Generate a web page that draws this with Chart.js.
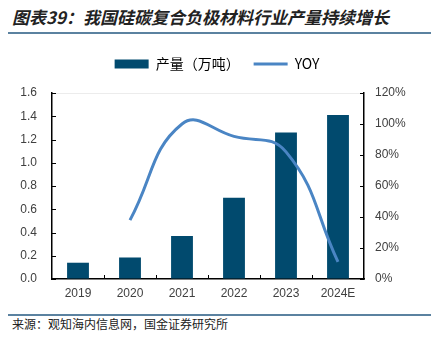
<!DOCTYPE html>
<html>
<head>
<meta charset="utf-8">
<script src="https://cdn.jsdelivr.net/npm/chart.js@4.4.1/dist/chart.umd.min.js"></script>
<style>
  html, body { margin: 0; padding: 0; background: #fff; }
  body { width: 434px; height: 338px; position: relative; overflow: hidden; font-family: "Noto Sans CJK SC", sans-serif; }
  #title { position: absolute; left: 12px; top: 5px; font-size: 17px; font-weight: bold; font-style: italic; color: #222; white-space: nowrap; line-height: 24px; }
  .rule { position: absolute; left: 8px; width: 423px; height: 2px; background: #5b82a0; }
  #source { position: absolute; left: 12px; top: 316px; font-size: 12px; color: #222; white-space: nowrap; line-height: 16px; }
  #chart { position: absolute; left: 0; top: 0; }
</style>
</head>
<body>
<div id="title">图表39：我国硅碳复合负极材料行业产量持续增长</div>
<div class="rule" style="top:32px"></div>
<div class="rule" style="top:314px"></div>
<div id="source">来源：观知海内信息网，国金证券研究所</div>
<canvas id="chart" width="434" height="338"></canvas>
<script>
document.addEventListener('DOMContentLoaded', function () {
    // --- Datos ---
    const years = ['2019', '2020', '2021', '2022', '2023', '2024E'];
    const output = [0.14, 0.185, 0.37, 0.70, 1.26, 1.41];      // 产量（万吨）
    const yoy = [null, 38, 100, 92, 82, 11];                   // YOY, %
    const leftTicks = [0, 0.2, 0.4, 0.6, 0.8, 1.0, 1.2, 1.4, 1.6];
    const rightTicks = [0, 20, 40, 60, 80, 100, 120];

    const barColor = '#014a6e';
    const lineColor = '#4a85c4';
    const tickFont = { family: '"Liberation Sans", Arial, sans-serif', size: 12 };

    // marcas de eje hacia adentro (como en Excel)
    const innerTicks = {
        id: 'innerTicks',
        afterDraw(chart) {
            const { ctx, chartArea: a, scales } = chart;
            ctx.save();
            ctx.strokeStyle = '#000';
            ctx.lineWidth = 1;
            leftTicks.forEach(v => {
                const y = Math.round(scales.y.getPixelForValue(v)) + 0.5;
                ctx.beginPath(); ctx.moveTo(a.left, y); ctx.lineTo(a.left + 4, y); ctx.stroke();
            });
            rightTicks.forEach(v => {
                const y = Math.round(scales.y1.getPixelForValue(v)) + 0.5;
                ctx.beginPath(); ctx.moveTo(a.right - 4, y); ctx.lineTo(a.right, y); ctx.stroke();
            });
            for (let i = 1; i < years.length; i++) {
                const x = Math.round((scales.x.getPixelForTick(i - 1) + scales.x.getPixelForTick(i)) / 2) + 0.5;
                ctx.beginPath(); ctx.moveTo(x, a.bottom - 4); ctx.lineTo(x, a.bottom); ctx.stroke();
            }
            ctx.restore();
        }
    };

    // espacio extra entre la leyenda y el área del gráfico
    const legendGap = {
        id: 'legendGap',
        beforeLayout(chart) {
            const legend = chart.legend;
            if (legend && !legend._gapWrapped) {
                const fit = legend.fit;
                legend.fit = function () {
                    fit.call(this);
                    this.height += 12;
                };
                legend._gapWrapped = true;
            }
        }
    };

    new Chart(document.getElementById('chart'), {
        data: {
            labels: years,
            datasets: [{
                type: 'line',
                label: 'YOY',
                data: yoy,
                yAxisID: 'y1',
                borderColor: lineColor,
                backgroundColor: lineColor,
                borderWidth: 3,
                pointRadius: 0,
                tension: 0.45,
                order: 0
            }, {
                type: 'bar',
                label: '产量（万吨）',
                data: output,
                yAxisID: 'y',
                backgroundColor: barColor,
                barPercentage: 0.42,
                categoryPercentage: 1,
                order: 1
            }]
        },
        options: {
            responsive: false,
            animation: false,
            layout: { padding: { top: 43, left: 0, right: 0, bottom: 37 } },
            plugins: {
                tooltip: { enabled: false },
                legend: {
                    position: 'top',
                    labels: {
                        usePointStyle: true,
                        pointStyleWidth: 34,
                        boxHeight: 9,
                        padding: 14,
                        color: '#333',
                        font: { family: '"Noto Sans CJK SC", "Liberation Sans", sans-serif', size: 14 },
                        generateLabels: chart => [
                            { text: '产量（万吨）', fillStyle: barColor, strokeStyle: barColor, lineWidth: 0, pointStyle: 'rect', datasetIndex: 1 },
                            { text: 'YOY', fillStyle: lineColor, strokeStyle: lineColor, lineWidth: 3, pointStyle: 'line', datasetIndex: 0 }
                        ]
                    }
                }
            },
            scales: {
                x: {
                    offset: true,
                    grid: { display: false, drawTicks: false },
                    border: { color: '#000', width: 1.5 },
                    ticks: { color: '#404040', font: tickFont, padding: 7 },
                    afterFit: s => { s.height = 22; }
                },
                y: {
                    position: 'left',
                    min: 0, max: 1.6,
                    afterBuildTicks: s => { s.ticks = leftTicks.map(v => ({ value: v })); },
                    grid: { drawTicks: false, color: ctx => ctx.tick && ctx.tick.value === 1.6 ? '#ececec' : 'rgba(0,0,0,0)' },
                    border: { color: '#000', width: 1.5 },
                    ticks: { color: '#404040', font: tickFont, padding: 15, callback: v => v.toFixed(1) },
                    afterFit: s => { s.width = 52; }
                },
                y1: {
                    position: 'right',
                    min: 0, max: 120,
                    afterBuildTicks: s => { s.ticks = rightTicks.map(v => ({ value: v })); },
                    grid: { display: false, drawTicks: false },
                    border: { color: '#000', width: 1.5 },
                    ticks: { color: '#404040', font: tickFont, padding: 11, callback: v => v + '%' },
                    afterFit: s => { s.width = 70; }
                }
            }
        },
        plugins: [innerTicks, legendGap]
    });
});
</script>
</body>
</html>
